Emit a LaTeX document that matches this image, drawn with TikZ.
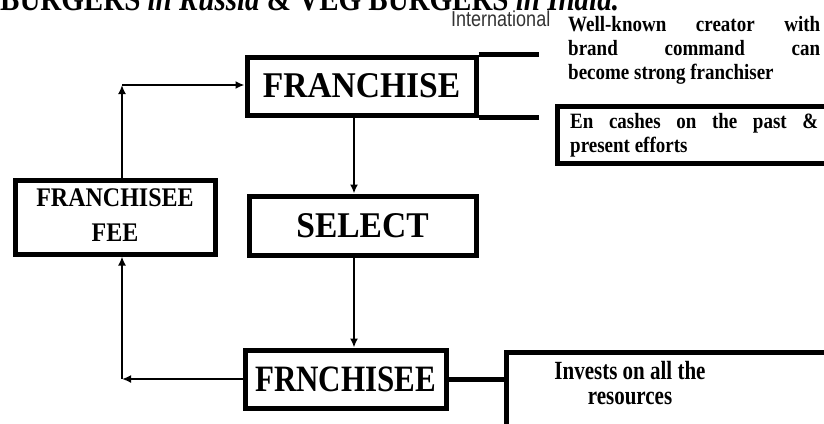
\documentclass[tikz,border=0pt]{standalone}
\usepackage{graphicx}
\usepackage{fontspec}
\setmainfont{Liberation Serif}
\newfontfamily\labelsans{Liberation Sans}
\usetikzlibrary{arrows.meta}

% slightly tall lettering
\newcommand{\tallby}[2]{\scalebox{1}[#1]{#2}}

\begin{document}
\begin{tikzpicture}[x=1pt,y=-1pt,
  box/.style={draw, line width=5pt, inner sep=0pt},
  link/.style={line width=2.8pt},
  arr/.style={link, -{Latex[length=9pt,width=8pt]}},
  bar/.style={line width=5pt},
  plain/.style={inner sep=0pt}
  ]
\useasboundingbox (0,0) rectangle (824,423);
\clip (0,0) rectangle (824,423);

% heading line running off the top of the page
\node[plain, anchor=base west, font=\fontsize{29}{32}\selectfont\bfseries] (title) at (0,10)
  {\tallby{1.15}{BURGERS \textit{in Russia} \& VEG BURGERS \textit{in India.}}};

% main chain
\node[box, minimum width=229pt, minimum height=58pt, font=\fontsize{33.5}{36}\selectfont\bfseries]
  (fr) at (361.5,86) {\tallby{1.08}{FRANCHISE}};
\node[box, minimum width=227pt, minimum height=59pt, font=\fontsize{33.5}{36}\selectfont\bfseries]
  (sel) at (362.5,225.5) {\tallby{1.08}{SELECT}};
\node[box, minimum width=201pt, minimum height=58pt, font=\fontsize{31}{34}\selectfont\bfseries]
  (frn) at (345.5,379) {\tallby{1.2}{FRNCHISEE}};
\node[box, minimum width=200pt, minimum height=74pt, font=\fontsize{24}{30}\selectfont\bfseries]
  (fee) at (115,217) {\tallby{1.12}{\begin{tabular}{@{}c@{}}FRANCHISEE\\[1pt]FEE\end{tabular}}};

% side notes
\node[plain, anchor=base west, font=\labelsans\fontsize{18}{20}\selectfont, text=black!80]
  (intl) at (451,27) {\tallby{1.2}{International}};
\node[plain, anchor=base west, font=\fontsize{19}{21}\selectfont\bfseries] (known) at (568,31)
  {\tallby{1.15}{\parbox[t]{252pt}{\hyphenpenalty=10000
   Well-known creator with\linebreak brand command can\linebreak become strong franchiser}}};

\node[draw, line width=5pt, anchor=north west, minimum width=320pt, minimum height=57pt]
  (cash) at (555,104) {};
\node[plain, anchor=base west, font=\fontsize{19}{21}\selectfont\bfseries] (cashtxt) at (570,128)
  {\tallby{1.15}{\parbox[t]{248pt}{\hyphenpenalty=10000
   En cashes on the past \&\linebreak present efforts}}};

\node[draw, line width=5pt, anchor=north west, minimum width=400pt, minimum height=120pt]
  (inv) at (504,350) {};
\node[plain, font=\fontsize{21}{21}\selectfont\bfseries] (invtxt) at (630,387)
  {\tallby{1.25}{\begin{tabular}{@{}c@{}}Invests on all the\\[-1pt]resources\end{tabular}}};

% bars leaving the franchise box
\coordinate (barend) at (539,0);
\draw[bar] (fr.north east) -- (fr.north east -| barend);
\draw[bar] (fr.south east) -- (fr.south east -| barend);
\draw[bar] (frn.east) -- (frn.east -| inv.west);

% flow arrows
\coordinate (axis) at (354,0);
\coordinate (ctop) at (122,85);
\coordinate (cbot) at (122,379);
\draw[arr] (fr.south -| axis) -- (sel.north -| axis);
\draw[arr] (sel.south -| axis) -- (frn.north -| axis);
\draw[arr] (frn.west) -- (cbot);
\draw[arr] (cbot) -- (cbot |- fee.south);
\draw[arr] (fee.north -| ctop) -- (ctop);
\draw[arr] (ctop) -- (ctop -| fr.west);
\end{tikzpicture}
\end{document}
